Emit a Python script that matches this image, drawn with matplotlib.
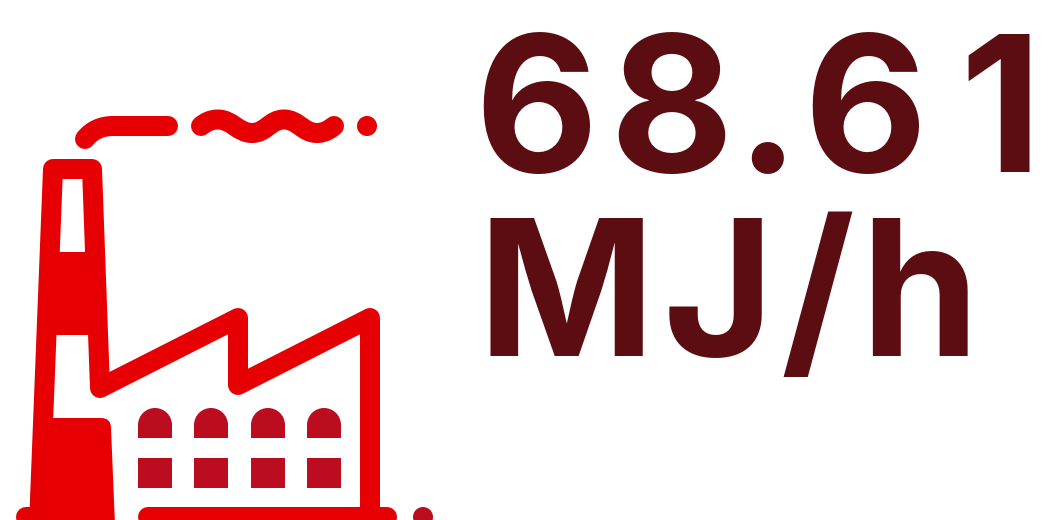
import matplotlib
matplotlib.use("Agg")
import matplotlib.pyplot as plt
from matplotlib.font_manager import FontProperties
from matplotlib.path import Path
from matplotlib.patches import PathPatch, Polygon, Circle, Rectangle, Wedge
from matplotlib.textpath import TextPath

value_chars = ["6", "8", ".", "6", "1"]
unit_chars = ["M", "J", "/", "h"]

# horizontal centre of each glyph
value_centres = [536, 671, 767.5, 865, 999]
unit_centres = [566, 715.5, 817, 919.5]

RED = "#e60003"
DARK_RED = "#bc0c1f"
TEXT_COLOR = "#5c0d12"

# icon geometry, in image pixels
outline_pts = [(39, 525), (53, 169), (92, 169), (100, 388), (238, 318),
               (238, 385), (370, 318), (370, 515)]
band_pts = [(49, 252), (95, 252), (98, 335), (46, 335)]
window_x = [138, 194, 251, 307]
base_segments = [(26, 40), (148, 387)]

LW = 20 * 72 / 100  # 20 px stroke
FONT_SIZE = 137
font = FontProperties(family="Inter", weight="bold")


def stroke(ax, verts, codes=None, color=RED):
    p = Path(verts, codes) if codes else Path(verts)
    ax.add_patch(PathPatch(p, fill=False, ec=color, lw=LW,
                           capstyle="round", joinstyle="round"))


def draw_line(ax, chars, centres, baseline):
    # letters sit wider apart than Inter's own spacing, so place them one by one
    for ch, cx in zip(chars, centres):
        ext = TextPath((0, 0), ch, size=FONT_SIZE, prop=font).get_extents()
        ink_mid = (ext.x0 + ext.x1) / 2 * 100 / 72
        ax.text(cx - ink_mid, baseline, ch, fontsize=FONT_SIZE, fontproperties=font,
                color=TEXT_COLOR, va="baseline", ha="left")


fig = plt.figure(figsize=(10.49, 5.20), dpi=100)
ax = fig.add_axes([0, 0, 1, 1])
ax.set_xlim(0, 1049)
ax.set_ylim(520, 0)
ax.axis("off")

# smoke
stroke(ax, [(85, 139), (92, 130), (102, 126), (113, 126), (168, 126)],
       [Path.MOVETO, Path.CURVE4, Path.CURVE4, Path.CURVE4, Path.LINETO])
wave = [(201, 126), (206, 122), (211, 119.5), (218, 119.5),
        (232, 119.5), (238, 133), (252, 133),
        (266, 133), (270, 119.5), (284, 119.5),
        (298, 119.5), (303, 133), (317, 133),
        (325, 133), (330, 129), (334, 126)]
stroke(ax, wave, [Path.MOVETO] + [Path.CURVE4] * 15)
ax.add_patch(Circle((367, 126), 10, fc=RED, ec="none"))

# chimney and roof
stroke(ax, outline_pts)
ax.add_patch(Polygon(band_pts, fc=RED, ec="none"))
block = [(35, 418), (101, 418), (111, 418), (111, 428), (115, 525), (29, 525), (35, 418)]
ax.add_patch(PathPatch(Path(block, [Path.MOVETO, Path.LINETO, Path.CURVE3, Path.CURVE3,
                                    Path.LINETO, Path.LINETO, Path.CLOSEPOLY]),
                       fc=RED, ec="none"))

# base
for x0, x1 in base_segments:
    ax.plot([x0, x1], [517, 517], color=RED, lw=LW, solid_capstyle="round")
ax.add_patch(Circle((423, 517), 10, fc=DARK_RED, ec="none"))

# windows (y axis is flipped, so 180-360 is the upper half)
for x in window_x:
    ax.add_patch(Wedge((x + 17, 425), 17, 180, 360, fc=DARK_RED, ec="none"))
    ax.add_patch(Rectangle((x, 425), 34, 13, fc=DARK_RED, ec="none"))
    ax.add_patch(Rectangle((x, 458), 34, 30, fc=DARK_RED, ec="none"))

draw_line(ax, value_chars, value_centres, 172)
draw_line(ax, unit_chars, unit_centres, 356)

fig.savefig("out.png", dpi=100)
